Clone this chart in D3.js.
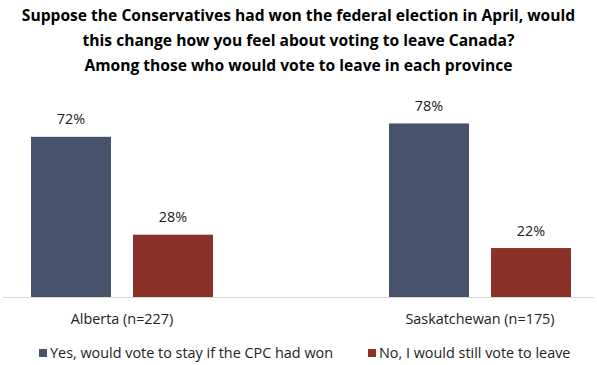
<!DOCTYPE html>
<html><head><meta charset="utf-8">
<script src="https://cdn.jsdelivr.net/npm/d3@7"></script>
<style>body{margin:0;background:#fff}svg{display:block}</style>
</head><body>
<script>
const titleLines = ["Suppose the Conservatives had won the federal election in April, would","this change how you feel about voting to leave Canada?","Among those who would vote to leave in each province"];
const categories = ["Alberta (n=227)","Saskatchewan (n=175)"];
const seriesNames = ["Yes, would vote to stay if the CPC had won","No, I would still vote to leave"];
const yesValues = [72,78];
const noValues = [28,22];
const colors = ["#46536A","#8A3128"];

const W=597,H=365;
const svg=d3.select("body").append("svg").attr("width",W).attr("height",H);
const font="'Open Sans', sans-serif";

svg.selectAll("text.title").data(titleLines).join("text")
  .attr("x",W/2).attr("y",(d,i)=>21+i*25)
  .attr("text-anchor","middle").attr("font-family",font).attr("font-weight","bold")
  .attr("font-size",15.6).attr("fill","#000").text(d=>d);

const baseY=297;
const y=d3.scaleLinear().domain([0,100]).range([baseY,baseY-222.5]);
const x0=d3.scalePoint().domain(categories).range([122,480]);
const x1=d3.scaleBand().domain(seriesNames).range([-91,91]).paddingInner(0.2157).paddingOuter(0);

const data=categories.map((c,i)=>({cat:c,vals:[yesValues[i],noValues[i]]}));

svg.append("line").attr("x1",3).attr("x2",594).attr("y1",baseY+0.5).attr("y2",baseY+0.5)
  .attr("stroke","#d9d9d9").attr("stroke-width",1);

const g=svg.selectAll("g.grp").data(data).join("g").attr("transform",d=>`translate(${x0(d.cat)},0)`);
g.selectAll("rect").data(d=>d.vals.map((v,j)=>({v,s:seriesNames[j],j}))).join("rect")
  .attr("x",d=>x1(d.s)).attr("width",x1.bandwidth())
  .attr("y",d=>y(d.v)).attr("height",d=>baseY-y(d.v))
  .attr("fill",d=>colors[d.j]);
g.selectAll("text.val").data(d=>d.vals.map((v,j)=>({v,s:seriesNames[j],j}))).join("text")
  .attr("class","val").attr("x",d=>x1(d.s)+x1.bandwidth()/2).attr("y",d=>y(d.v)-12.4)
  .attr("text-anchor","middle").attr("font-family",font).attr("font-size",14.4).attr("fill","#222")
  .text(d=>d.v+"%");
g.append("text").attr("x",0).attr("y",323.5).attr("text-anchor","middle")
  .attr("font-family",font).attr("font-size",14.4).attr("fill","#222").text(d=>d.cat);

const legX=[39,368];
const lg=svg.selectAll("g.leg").data(seriesNames).join("g").attr("transform",(d,i)=>`translate(${legX[i]},0)`);
lg.append("rect").attr("x",0).attr("y",349).attr("width",8).attr("height",8).attr("fill",(d,i)=>colors[i]);
lg.append("text").attr("x",11).attr("y",358).attr("font-family",font).attr("font-size",14.4).attr("fill","#222").text(d=>d);
</script>
</body></html>
